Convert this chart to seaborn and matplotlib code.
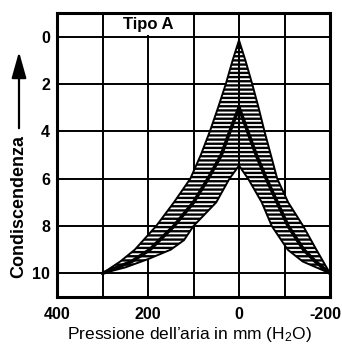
import matplotlib
matplotlib.use("Agg")
import matplotlib.pyplot as plt
import matplotlib.transforms as mtransforms
import seaborn as sns
from matplotlib.patches import Rectangle
from matplotlib.ticker import FixedLocator

# ---- data ----
left_outer_y = [0.15, 1, 2, 3, 4, 5, 6, 7, 8, 9, 9.5, 10]
left_outer_x = [0, 14, 29, 46, 64, 84, 107, 143, 182, 229, 261, 300]
left_mid_y = [3, 4, 5, 6, 7, 8, 9, 9.5, 10]
left_mid_x = [0, 20, 39, 68, 100, 143, 196, 236, 300]
left_inner_y = [5.45, 6, 7, 8, 8.6, 9, 9.4, 9.75, 10]
left_inner_x = [0, 21, 50, 100, 121, 150, 200, 250, 300]

right_outer_y = [0.15, 1, 2, 3, 4, 5, 6, 7, 8, 9, 9.5, 10]
right_outer_x = [0, -14, -29, -43, -56, -70, -84, -108, -141, -170, -185, -200]
right_mid_y = [3, 4, 5, 6, 7, 8, 9, 9.5, 10]
right_mid_x = [0, -19, -38, -60, -84, -108, -142, -168, -200]
right_inner_y = [5.45, 6, 7, 8, 9, 9.5, 10]
right_inner_x = [0, -20, -50, -72, -107, -140, -200]

x_ticks = [400, 200, 0, -200]
x_tick_labels = ["400", "200", "0", "-200"]
x_minor_grid = [300, 100, -100]
y_ticks = [0, 2, 4, 6, 8, 10]
y_tick_labels = ["0", "2", "4", "6", "8", "10"]

title_text = "Tipo A"
x_label = "Pressione dell’aria in mm (H$_2$O)"
y_label = "Condiscendenza"

# ---- style ----
sns.set_theme(style="white")
plt.rcParams["font.family"] = ["Liberation Sans", "DejaVu Sans"]
plt.rcParams["mathtext.fontset"] = "custom"
plt.rcParams["mathtext.rm"] = "Liberation Sans"
plt.rcParams["mathtext.it"] = "Liberation Sans"
plt.rcParams["hatch.linewidth"] = 1.7
plt.rcParams["hatch.color"] = "black"
for k in ["text.color", "axes.labelcolor", "xtick.color", "ytick.color"]:
    plt.rcParams[k] = "black"

fig = plt.figure(figsize=(3.42, 3.46), dpi=100)
ax = fig.add_axes([57 / 342, 1 - 297 / 346, (330 - 57) / 342, (297 - 13) / 346])

# hatched bands
for ox, oy, ix, iy in [(left_outer_x, left_outer_y, left_inner_x, left_inner_y),
                       (right_outer_x, right_outer_y, right_inner_x, right_inner_y)]:
    px = list(ox) + list(ix[::-1])
    py = list(oy) + list(iy[::-1])
    ax.fill(px, py, facecolor="white", edgecolor="black", hatch="----",
            linewidth=1.4, joinstyle="round", zorder=2)

# middle thick curves
for mx, my in [(left_mid_x, left_mid_y), (right_mid_x, right_mid_y)]:
    sns.lineplot(x=mx, y=my, sort=False, estimator=None, color="black",
                 linewidth=2.6, ax=ax, zorder=3, solid_joinstyle="round")

ax.set_xlim(400, -200)
ax.set_ylim(11, -1)

ax.set_xticks(x_ticks)
ax.set_xticklabels(x_tick_labels, fontweight="bold", fontsize=11.5)
ax.xaxis.set_minor_locator(FixedLocator(x_minor_grid))
ax.set_yticks(y_ticks)
ax.set_yticklabels(y_tick_labels, fontweight="bold", fontsize=11.5)
ax.tick_params(axis="both", which="both", length=0, colors="black")
ax.tick_params(axis="x", pad=7)
ax.tick_params(axis="y", pad=5)

# keep "-200" inside the figure
last = ax.get_xticklabels()[-1]
last.set_transform(last.get_transform() +
                   mtransforms.ScaledTranslation(-5 / 100, 0, fig.dpi_scale_trans))

ax.set_axisbelow(True)
ax.grid(True, which="both", axis="x", color="black", linewidth=1.4)
ax.grid(True, which="major", axis="y", color="black", linewidth=1.4)

for s in ax.spines.values():
    s.set_color("black")
    s.set_linewidth(2.2)

# "Tipo A" label box
ax.add_patch(Rectangle((292, -0.93), -184, 0.85, facecolor="white",
                       edgecolor="none", zorder=1))
ax.text(200, -0.5, title_text, ha="center", va="center", fontsize=12,
        fontweight="bold", zorder=4)

fig.text(189 / 342, 1 - 335 / 346, x_label, ha="center", va="center",
         fontsize=12.5)

fig.text(18.5 / 342, 1 - 206 / 346, y_label, rotation=90, ha="center",
         va="center", fontsize=13, fontweight="bold")
ax.annotate("", xy=(19 / 342, 1 - 49 / 346), xycoords="figure fraction",
            xytext=(19 / 342, 1 - 131 / 346), textcoords="figure fraction",
            arrowprops=dict(arrowstyle="-|>,head_length=1.6,head_width=0.45",
                            color="black", lw=1.6, mutation_scale=10))

fig.savefig("out.png", dpi=100)
